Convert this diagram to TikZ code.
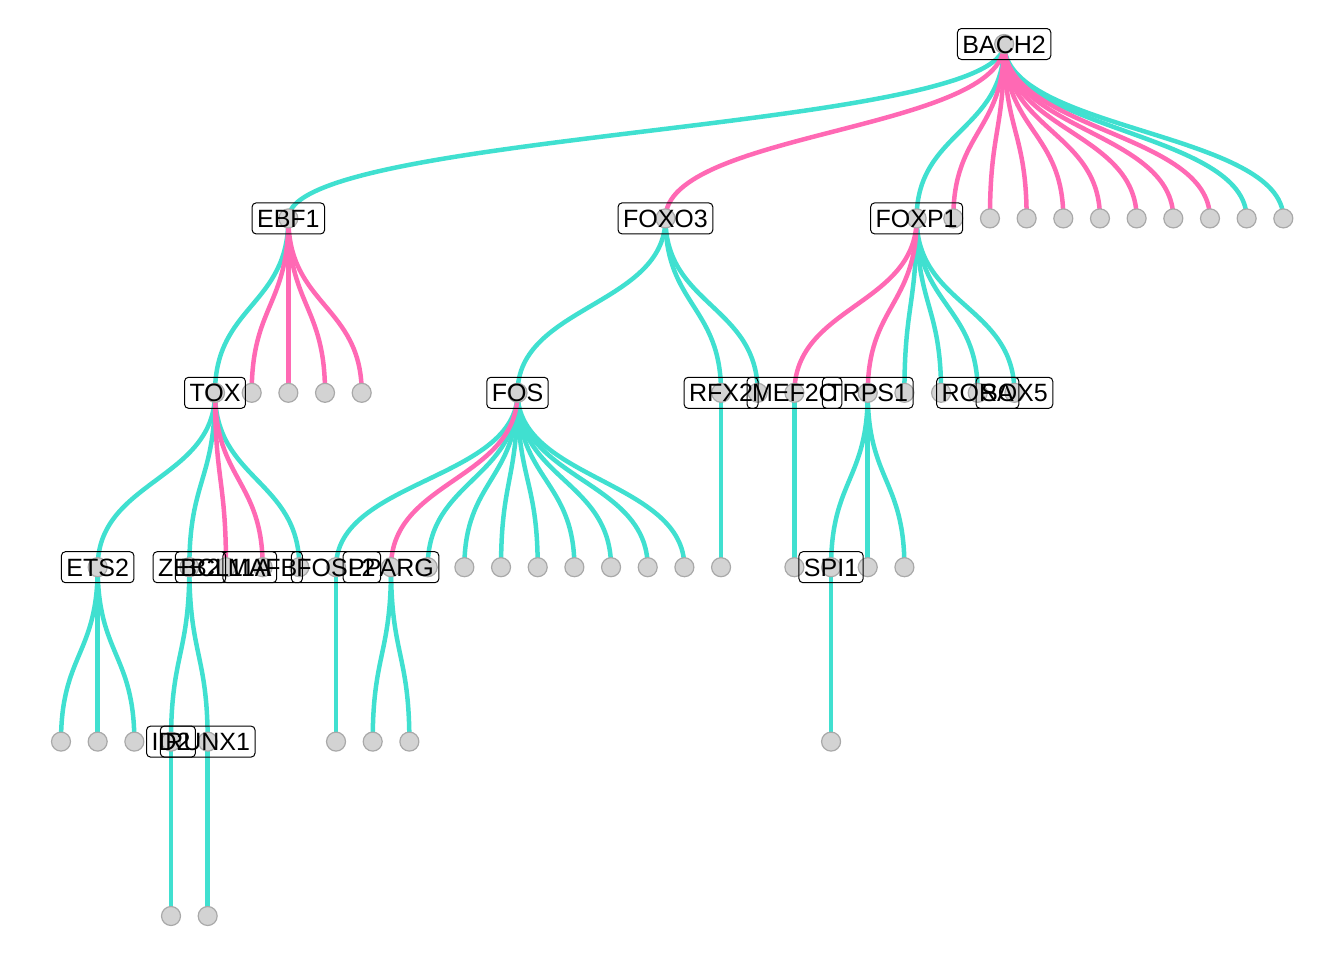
\documentclass[tikz,border=0pt]{standalone}
\usepackage{fontspec}
\setmainfont{Liberation Sans}
\usetikzlibrary{calc}
\definecolor{tealedge}{HTML}{40E0D0}
\definecolor{pinkedge}{HTML}{FF69B4}
\definecolor{ptfill}{HTML}{D3D3D3}
\definecolor{ptline}{HTML}{A9A9A9}

\tikzset{
  actline/.style={draw=tealedge, line width=2.25pt},
  repline/.style={draw=pinkedge, line width=2.25pt},
  gene/.style={circle, fill=ptfill, draw=ptline, line width=0.6pt, minimum size=9.5pt, inner sep=0pt},
  tf/.style={draw, rounded corners=2pt, line width=0.5pt, inner xsep=2.5pt, inner ysep=3.25pt,
    text height=9pt, text depth=0pt, font=\fontsize{12.5}{15}\selectfont}
}
% diagonal edge from parent to child
\newcommand{\diag}[3]{\path ($(#2)!0.5!(#3)$) coordinate (mid);
  \draw[#1] (#2) .. controls (#2 |- mid) and (#3 |- mid) .. (#3);}

\begin{document}
\begin{tikzpicture}[x=18.335pt, y=-87.2pt]
	\useasboundingbox (-1.6635,-0.2523) rectangle (34.988,5.2523);

	% level 0 and 1
	\coordinate (BACH2) at (25.72,0);
	\coordinate (EBF1) at (6.2,1);
	\coordinate (FOXO3) at (16.483,1);
	\coordinate (FOXP1) at (23.333,1);
	\foreach \i in {1,...,10} \coordinate (b\i) at ({23.333+\i},1);

	% level 2
	\coordinate (TOX) at (4.2,2);
	\foreach \i in {1,...,4} \coordinate (e\i) at ({4.2+\i},2);
	\coordinate (FOS) at (12.45,2);
	\coordinate (RFX2) at (18,2);
	\coordinate (o1) at (19,2);
	\coordinate (MEF2C) at (20,2);
	\coordinate (TRPS1) at (22,2);
	\coordinate (p1) at (23,2);
	\coordinate (p2) at (24,2);
	\coordinate (RORA) at (25,2);
	\coordinate (SOX5) at (26,2);

	% level 3
	\coordinate (ETS2) at (1,3);
	\coordinate (ZEB2) at (3.5,3);
	\coordinate (BCL11A) at (4.5,3);
	\coordinate (MAFB) at (5.5,3);
	\coordinate (t1) at (6.5,3);
	\coordinate (FOSL2) at (7.5,3);
	\coordinate (PPARG) at (9,3);
	\foreach \i in {1,...,8} \coordinate (f\i) at ({9+\i},3);
	\coordinate (r1) at (18,3);
	\coordinate (m1) at (20,3);
	\coordinate (SPI1) at (21,3);
	\coordinate (s1) at (22,3);
	\coordinate (s2) at (23,3);

	% level 4 and 5
	\foreach \i in {0,1,2} \coordinate (et\i) at (\i,4);
	\coordinate (ID2) at (3,4);
	\coordinate (RUNX1) at (4,4);
	\coordinate (fl1) at (7.5,4);
	\coordinate (pp1) at (8.5,4);
	\coordinate (pp2) at (9.5,4);
	\coordinate (sp1) at (21,4);
	\coordinate (id1) at (3,5);
	\coordinate (ru1) at (4,5);

	% edges
	\foreach \a/\b in {BACH2/EBF1, BACH2/FOXP1, BACH2/b9, BACH2/b10,
		EBF1/TOX, FOXO3/FOS, FOXO3/RFX2, FOXO3/o1,
		FOXP1/p1, FOXP1/p2, FOXP1/RORA, FOXP1/SOX5,
		TOX/ETS2, TOX/ZEB2, TOX/t1, FOS/FOSL2,
		FOS/f1, FOS/f2, FOS/f3, FOS/f4, FOS/f5, FOS/f6, FOS/f7, FOS/f8,
		RFX2/r1, MEF2C/m1, TRPS1/SPI1, TRPS1/s1, TRPS1/s2,
		ETS2/et0, ETS2/et1, ETS2/et2, ZEB2/ID2, ZEB2/RUNX1,
		FOSL2/fl1, PPARG/pp1, PPARG/pp2, SPI1/sp1, ID2/id1, RUNX1/ru1}
		\diag{actline}{\a}{\b};
	\foreach \a/\b in {BACH2/FOXO3, BACH2/b1, BACH2/b2, BACH2/b3, BACH2/b4,
		BACH2/b5, BACH2/b6, BACH2/b7, BACH2/b8,
		EBF1/e1, EBF1/e2, EBF1/e3, EBF1/e4,
		FOXP1/MEF2C, FOXP1/TRPS1, TOX/BCL11A, TOX/MAFB, FOS/PPARG}
		\diag{repline}{\a}{\b};

	% points
	\foreach \n in {BACH2, EBF1, FOXO3, FOXP1, b1, b2, b3, b4, b5, b6, b7, b8, b9, b10,
		TOX, e1, e2, e3, e4, FOS, RFX2, o1, MEF2C, TRPS1, p1, p2, RORA, SOX5,
		ETS2, ZEB2, BCL11A, MAFB, t1, FOSL2, PPARG, f1, f2, f3, f4, f5, f6, f7, f8,
		r1, m1, SPI1, s1, s2, et0, et1, et2, ID2, RUNX1, fl1, pp1, pp2, sp1, id1, ru1}
		\node[gene] (c\n) at (\n) {};

	% labels
	\foreach \n in {BACH2, EBF1, FOXO3, FOXP1, TOX, FOS, RFX2, MEF2C, TRPS1, RORA, SOX5,
		ETS2, ZEB2, BCL11A, MAFB, FOSL2, PPARG, SPI1, ID2, RUNX1}
		\node[tf] (l\n) at (\n) {\n};
\end{tikzpicture}
\end{document}
